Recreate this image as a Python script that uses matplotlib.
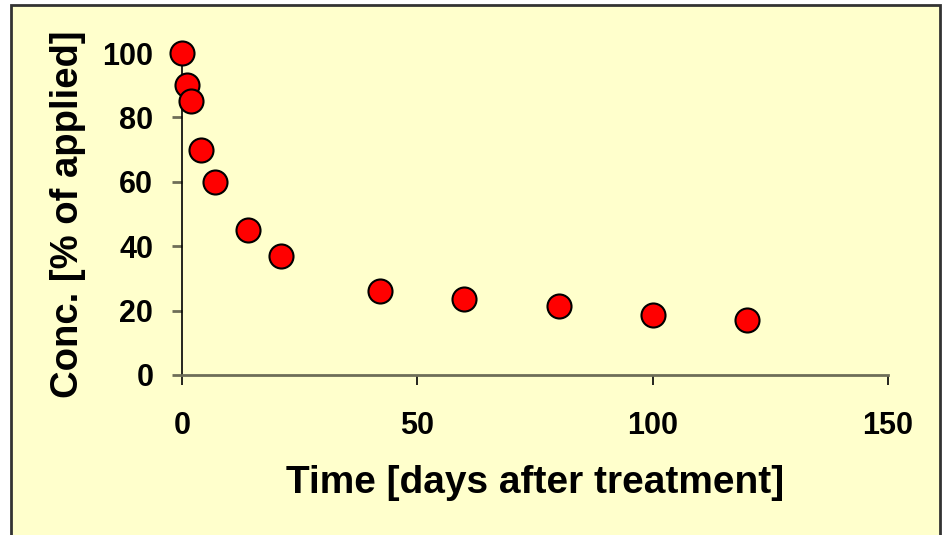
import matplotlib
matplotlib.use("Agg")
import matplotlib.pyplot as plt
from matplotlib.patches import Rectangle

days = [0, 1, 2, 4, 7, 14, 21, 42, 60, 80, 100, 120]
conc = [100, 90, 85, 70, 60, 45, 37, 26, 23.5, 21.5, 18.5, 17]
xticks = [0, 50, 100, 150]
yticks = [0, 20, 40, 60, 80, 100]

fam = "Liberation Sans"
bg = "#FFFFCC"
fig = plt.figure(figsize=(9.42, 5.35), dpi=100, facecolor="white")
fig.patches.append(Rectangle((11/942, -0.01), (940-11)/942, (535-5)/535 + 0.01,
                             transform=fig.transFigure, facecolor=bg,
                             edgecolor="#333333", linewidth=2, zorder=-10))
ax = fig.add_axes([182/942, (535-375)/535, (888-182)/942, (375-53)/535])
ax.set_zorder(5)
ax.set_facecolor("none")
ax.scatter(days, conc, s=17.3**2, c="#FF0000", edgecolors="black",
           linewidths=1.5, zorder=3, clip_on=False)
ax.set_xlim(0, 150)
ax.set_ylim(0, 100)
ax.set_xticks(xticks)
ax.set_yticks(yticks)
for s in ["top", "right"]:
    ax.spines[s].set_visible(False)
ax.spines["left"].set_color("black")
ax.spines["bottom"].set_color("#6e6e58")
ax.spines["left"].set_linewidth(1.2)
ax.spines["bottom"].set_linewidth(2)
ax.tick_params(axis="y", direction="out", length=7.2, width=2, color="#6e6e58", pad=13.5)
ax.tick_params(axis="x", direction="out", length=7.2, width=1.2, color="black", pad=19)
for lab in ax.get_xticklabels() + ax.get_yticklabels():
    lab.set_fontfamily(fam)
    lab.set_fontweight("bold")
    lab.set_fontsize(22)
ax.set_xlabel("Time [days after treatment]", fontfamily=fam, fontweight="bold",
              fontsize=28, labelpad=17)
ax.set_ylabel("Conc. [% of applied]", fontfamily=fam, fontweight="bold",
              fontsize=27.5, labelpad=12)
fig.savefig("out.png", dpi=100, facecolor="white")
